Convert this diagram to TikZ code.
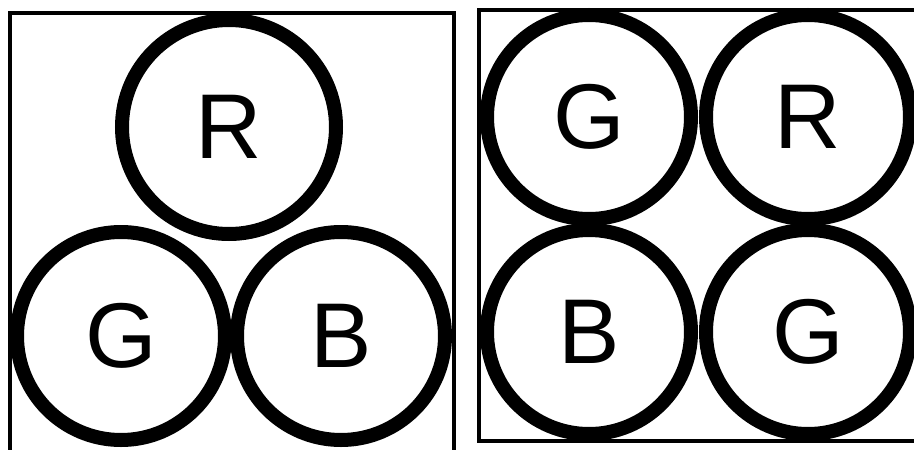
\documentclass[tikz,border=0pt]{standalone}
\usepackage{fontspec}
\setmainfont{Liberation Sans}
\usetikzlibrary{positioning}
\tikzset{
  ring/.style={draw, circle, line width=14pt, inner sep=0pt, minimum size=#1,
    font=\fontsize{92}{92}\selectfont},
  ring/.default=204pt,
  frame/.style={draw, line width=4pt}}

\begin{document}
\begin{tikzpicture}[x=1pt, y=-1pt]
\useasboundingbox (0,0) rectangle (914,450);
\clip (0,0) rectangle (914,450);
% left panel: delta arrangement
\draw[frame] (9.5,13) rectangle (454,470);
\node[ring=214pt] (r1) at (229,127) {R};
\node[ring=208pt] (g1) at (121,336) {G};
\node[ring=208pt] (b1) at (341,336) {B};
% right panel: quad arrangement
\draw[frame] (479,9.5) rectangle (930,441);
\node[ring] (g2) at (589,117) {G};
\node[ring] (r2) at (808,117) {R};
\node[ring] (b2) at (589,332) {B};
\node[ring] (g3) at (808,332) {G};
\end{tikzpicture}
\end{document}
